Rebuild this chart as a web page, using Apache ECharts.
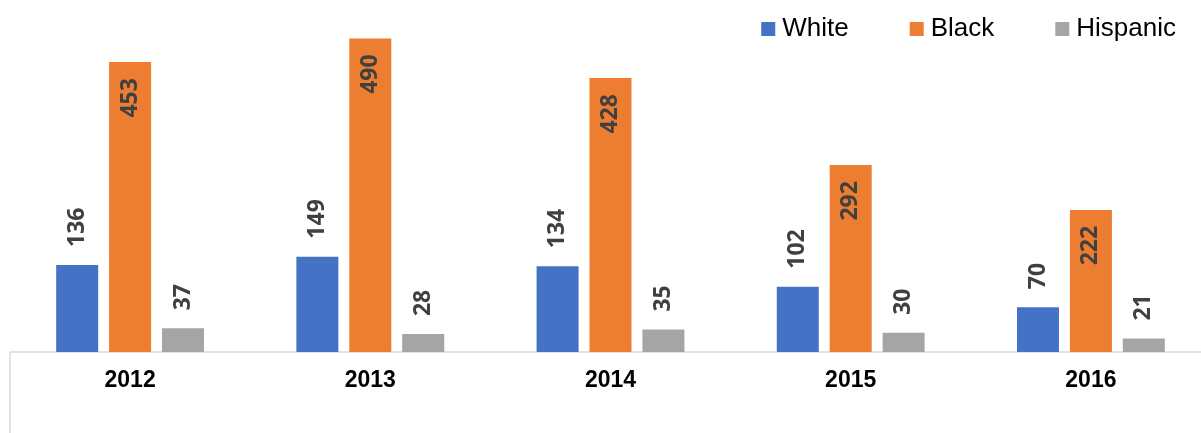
<!DOCTYPE html>
<html>
<head>
    <meta charset="utf-8" />
    <script src="https://cdn.jsdelivr.net/npm/echarts@6/dist/echarts.min.js"></script>
    <title>Bar Chart</title>
    <style>
        html, body { margin: 0; padding: 0; background: #fff; overflow: hidden; }
        #wrap { width: 1201px; height: 433px; overflow: hidden; }
        #chart { width: 1211px; height: 433px; }
    </style>
</head>
<body>
    <div id="wrap"><div id="chart"></div></div>
    <script type="text/javascript">
        var years = ['2012', '2013', '2014', '2015', '2016'];
        var white = [136, 149, 134, 102, 70];
        var black = [453, 490, 428, 292, 222];
        var hispanic = [37, 28, 35, 30, 21];

        var chart = echarts.init(document.getElementById('chart'), null, { renderer: 'canvas' });

        // rotated value labels, drawn above the bar
        function outsideLabel() {
            return {
                show: true,
                position: 'top',
                distance: 18,
                rotate: 90,
                align: 'left',
                verticalAlign: 'middle',
                color: '#404040',
                fontFamily: 'Open Sans',
                fontWeight: 'bold',
                fontSize: 23
            };
        }

        var option = {
            animation: false,
            legend: {
                right: 35,
                top: 16,
                padding: 0,
                icon: 'rect',
                itemWidth: 14,
                itemHeight: 14,
                itemGap: 61,
                textStyle: {
                    color: '#000',
                    fontFamily: 'Liberation Sans',
                    fontSize: 26,
                    padding: [0, 0, 0, 2]
                },
                data: ['White', 'Black', 'Hispanic']
            },
            grid: {
                left: 10,
                right: 0,
                top: 0,
                bottom: 81,
                containLabel: false
            },
            xAxis: {
                type: 'category',
                data: years,
                axisLine: { lineStyle: { color: '#d9d9d9', width: 1.5 } },
                axisTick: { show: false },
                axisLabel: {
                    margin: 17,
                    color: '#000',
                    fontFamily: 'Liberation Sans',
                    fontWeight: 'bold',
                    fontSize: 23
                }
            },
            yAxis: {
                type: 'value',
                min: 0,
                max: 550,
                show: false,
                splitLine: { show: false }
            },
            graphic: [{
                type: 'line',
                shape: { x1: 10, y1: 352, x2: 10, y2: 433 },
                style: { stroke: '#d9d9d9', lineWidth: 1.5 }
            }],
            series: [
                {
                    name: 'White',
                    type: 'bar',
                    data: white,
                    barWidth: 42,
                    barGap: '26%',
                    itemStyle: { color: '#4472C4' },
                    label: outsideLabel()
                },
                {
                    name: 'Black',
                    type: 'bar',
                    data: black,
                    barWidth: 42,
                    barGap: '26%',
                    itemStyle: { color: '#ED7D31' },
                    label: {
                        show: true,
                        position: 'insideTop',
                        distance: 16,
                        rotate: 90,
                        align: 'right',
                        verticalAlign: 'middle',
                        color: '#404040',
                        fontFamily: 'Open Sans',
                        fontWeight: 'bold',
                        fontSize: 23
                    }
                },
                {
                    name: 'Hispanic',
                    type: 'bar',
                    data: hispanic,
                    barWidth: 42,
                    barGap: '26%',
                    itemStyle: { color: '#A5A5A5' },
                    label: outsideLabel()
                }
            ]
        };

        chart.setOption(option);
    </script>
</body>
</html>
